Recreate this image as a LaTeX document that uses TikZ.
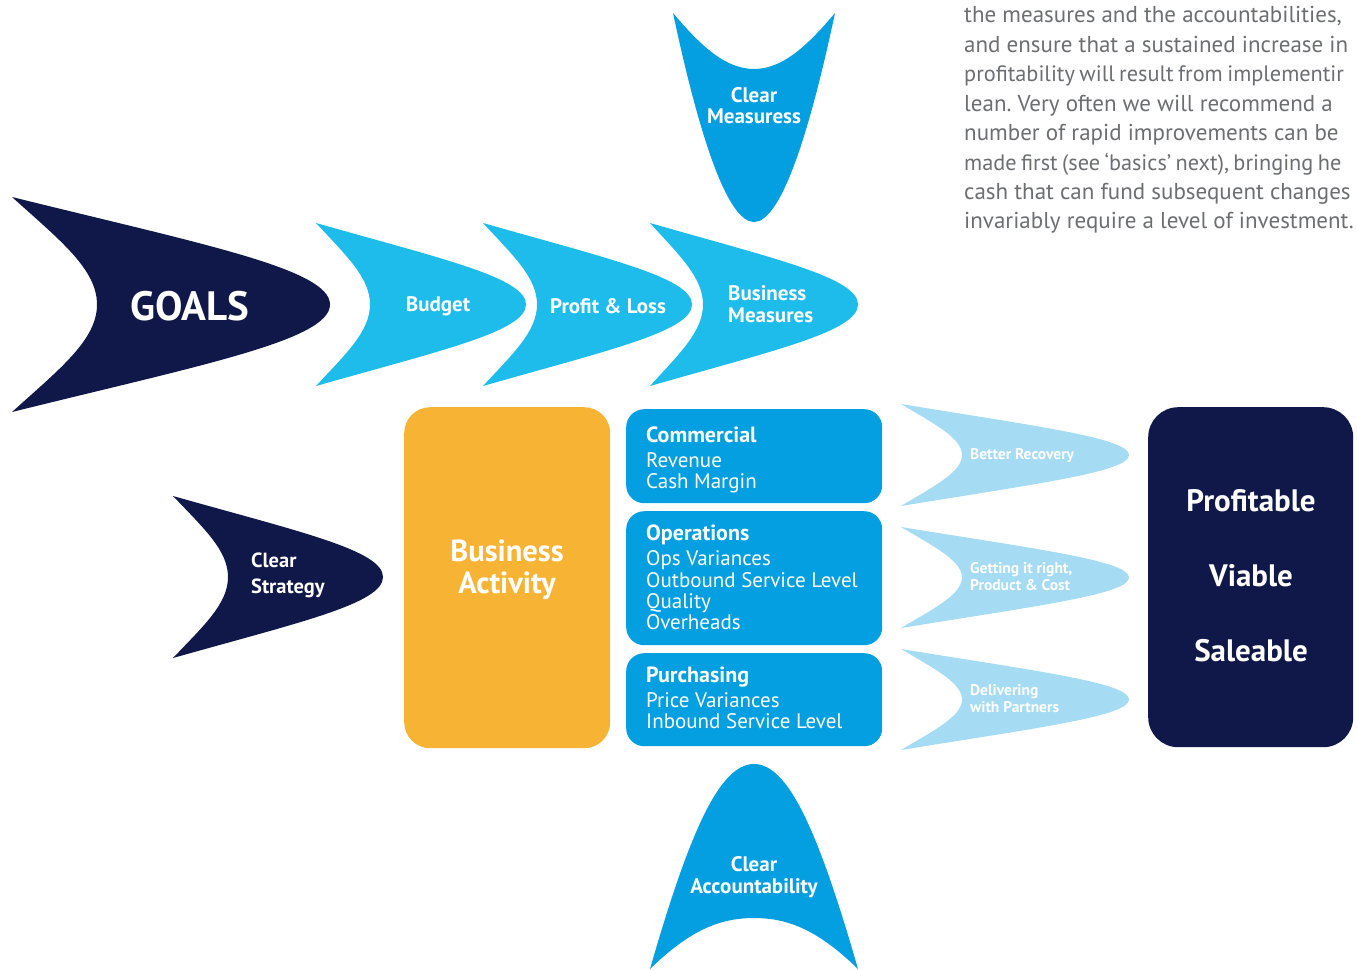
\documentclass[tikz,border=0pt]{standalone}
\usepackage{fontspec}
\setmainfont{PT Sans}
\frenchspacing
\definecolor{navy}{HTML}{10184A}
\definecolor{cyanblue}{HTML}{1EBCEB}
\definecolor{midblue}{HTML}{039FE0}
\definecolor{paleblue}{HTML}{A6DBF4}
\definecolor{amber}{HTML}{F7B334}
\definecolor{bodygray}{HTML}{6D6E71}

% horizontal arrowhead: colour, x of tips, y top tip, y bottom tip, x of notch, x of point
\newcommand\hchev[6]{%
  \fill[#1] (#2,#3)
    .. controls ({#2+0.6*(#6-#2)},{#3+0.22*(#4-#3)}) and (#6,{#3+0.335*(#4-#3)}) .. (#6,{0.5*(#3+#4)})
    .. controls (#6,{#4-0.335*(#4-#3)}) and ({#2+0.6*(#6-#2)},{#4-0.22*(#4-#3)}) .. (#2,#4)
    .. controls ({#2+0.56*(#5-#2)},{#4-0.2*(#4-#3)}) and (#5,{#4-0.335*(#4-#3)}) .. (#5,{0.5*(#3+#4)})
    .. controls (#5,{#3+0.335*(#4-#3)}) and ({#2+0.56*(#5-#2)},{#3+0.2*(#4-#3)}) .. cycle;}

\newcommand\tightwords{\fontsize{22.3}{29}\selectfont\spaceskip=0.2em\relax}

\tikzset{
  lbl/.style={text=white,inner sep=0pt,font=\bfseries\fontsize{21}{22}\selectfont},
  smalllbl/.style={text=white,inner sep=0pt,align=left,font=\bfseries\fontsize{15.5}{17}\selectfont},
  bigbox/.style={rounded corners=#1,inner sep=0pt,anchor=north west},
  head/.style={text=white,inner sep=0pt,anchor=base west,font=\bfseries\fontsize{22}{21.5}\selectfont},
  items/.style={text=white,inner sep=0pt,anchor=base west,align=left,font=\fontsize{21}{21.4}\selectfont},
  bodyline/.style={text=bodygray,inner sep=0pt,anchor=base west,font=\fontsize{23}{29}\selectfont},
  tightline/.style={bodyline,font=\tightwords},
  outcome/.style={text=white,inner sep=0pt,font=\bfseries\fontsize{31}{32}\selectfont}
}

\begin{document}
\begin{tikzpicture}[x=1pt,y=-1pt]
\useasboundingbox (0,0) rectangle (1357,969);
\clip (0,0) rectangle (1357,969);

% goal chain
\hchev{navy}{12}{197}{412}{97}{330}
\hchev{cyanblue}{316}{223}{386}{370}{526}
\hchev{cyanblue}{483}{223}{386}{537}{692}
\hchev{cyanblue}{650}{223}{386}{703}{858}
\node[lbl,font=\bfseries\fontsize{41}{42}\selectfont] (goals) at (190,306) {GOALS};
\node[lbl] (budget) at (438,306) {Budget};
\node[lbl] (pl) at (608,306) {Profit \& Loss};
\node[lbl,align=left,anchor=west] (bmeasures) at (728,304) {Business\\Measures};

% strategy
\hchev{navy}{173}{496}{658}{228}{383}
\node[lbl,align=left,anchor=west,font=\bfseries\fontsize{20.5}{26}\selectfont] (strategy) at (251,575) {Clear\\Strategy};

% measures from above
\fill[midblue] (673,13) .. controls (700,45) and (725,69) .. (754,69)
  .. controls (783,69) and (808,45) .. (835,13)
  .. controls (808,140) and (780,222) .. (754,222)
  .. controls (728,222) and (700,140) .. cycle;
\node[lbl,align=center,font=\bfseries\fontsize{21}{21}\selectfont] (cmeasures) at (754,106) {Clear\\Measuress};

% accountability from below
\fill[midblue] (650,969) .. controls (690,930) and (720,918) .. (754,918)
  .. controls (788,918) and (818,930) .. (858,969)
  .. controls (818,830) and (788,764) .. (754,764)
  .. controls (720,764) and (690,830) .. cycle;
\node[lbl,align=center,font=\bfseries\fontsize{21}{22}\selectfont] (caccount) at (754,877) {Clear\\Accountability};

% business activity
\node[bigbox=26,fill=amber,minimum width=206,minimum height=341] (activity) at (404,407) {};
\node[outcome,align=center,font=\bfseries\fontsize{30.5}{32}\selectfont] (activitytxt) at (507,570) {Business\\Activity};

% measure groups
\node[bigbox=18,fill=midblue,minimum width=256,minimum height=94] (commercial) at (626,409) {};
\node[bigbox=18,fill=midblue,minimum width=256,minimum height=134] (operations) at (626,511) {};
\node[bigbox=18,fill=midblue,minimum width=256,minimum height=93] (purchasing) at (626,653) {};

\node[head] (commhead) at (646,442) {Commercial};
\node[items] (commitems) at (646,467) {Revenue};
\node[items] (commitems2) at (646,488) {Cash Margin};

\node[head] (opshead) at (646,540) {Operations};
\node[items] (ops1) at (646,565) {Ops Variances};
\node[items] (ops2) at (646,587) {Outbound Service Level};
\node[items] (ops3) at (646,608) {Quality};
\node[items] (ops4) at (646,629) {Overheads};

\node[head] (purhead) at (646,682) {Purchasing};
\node[items] (pur1) at (646,707) {Price Variances};
\node[items] (pur2) at (646,728) {Inbound Service Level};

% enablers
\hchev{paleblue}{901}{404}{506}{962}{1129}
\hchev{paleblue}{901}{527}{628}{962}{1129}
\hchev{paleblue}{901}{649}{750}{962}{1129}
\node[smalllbl,anchor=west] (recovery) at (970,456) {Better Recovery};
\node[smalllbl,anchor=west] (rightcost) at (970,577) {Getting it right,\\Product \& Cost};
\node[smalllbl,anchor=west] (partners) at (970,699) {Delivering\\with Partners};

% outcomes
\node[bigbox=30,fill=navy,minimum width=205,minimum height=340] (result) at (1148,407) {};
\node[outcome] (profitable) at (1251,501) {Profitable};
\node[outcome] (viable) at (1251,576) {Viable};
\node[outcome] (saleable) at (1251,651) {Saleable};

% running text
\node[bodyline] (t1) at (964,23) {the measures and the accountabilities,};
\node[bodyline] (t2) at (964,52.4) {and ensure that a sustained increase in};
\node[tightline] (t3) at (964,81.8) {profitability will result from implementir};
\node[bodyline] (t4) at (964,111.2) {lean. Very often we will recommend a};
\node[bodyline] (t5) at (964,140.6) {number of rapid improvements can be};
\node[tightline] (t6) at (964,170) {made first (see ‘basics’ next), bringing he};
\node[bodyline] (t7) at (964,199.4) {cash that can fund subsequent changes};
\node[bodyline] (t8) at (964,228.8) {invariably require a level of investment.};
\end{tikzpicture}
\end{document}
